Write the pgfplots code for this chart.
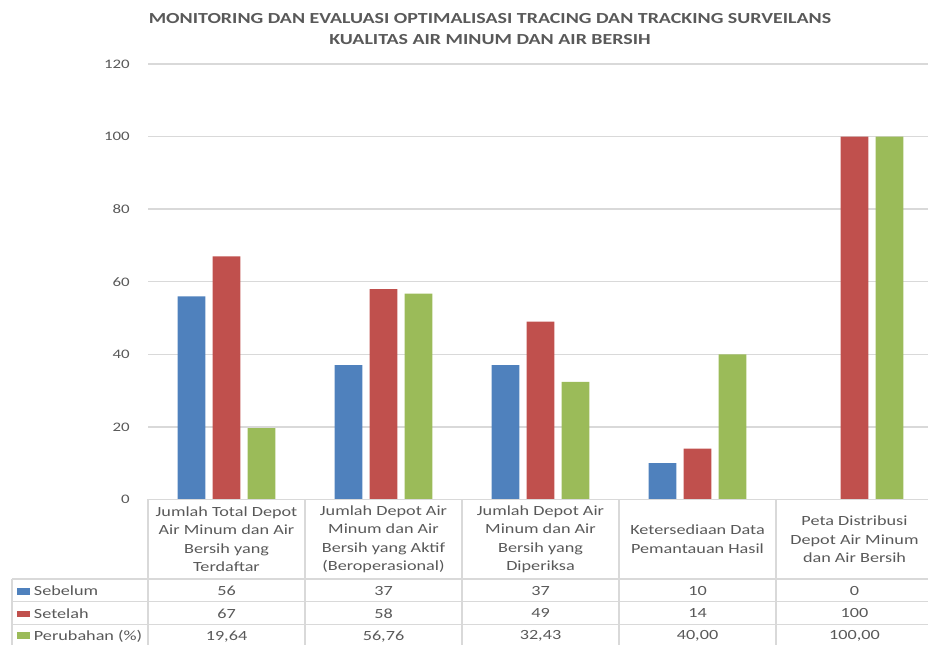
\documentclass[border=0pt]{standalone}
\usepackage{pgfplots}
\pgfplotsset{compat=1.18}
\usepackage{pgfplotstable}
\usepackage{fontspec}
\setmainfont{Carlito}[FakeStretch=1.3]
\definecolor{cblue}{HTML}{4F81BD}
\definecolor{cred}{HTML}{C0504D}
\definecolor{cgreen}{HTML}{9BBB59}
\definecolor{txt}{HTML}{595959}
\definecolor{gridc}{HTML}{D9D9D9}

\pgfplotstableread{
x seb set per sebT setT perT
0 56 67 19.64 56 67 19,64
1 37 58 56.76 37 58 56,76
2 37 49 32.43 37 49 32,43
3 10 14 40.00 10 14 40,00
4 0 100 100.00 0 100 100,00
}\data

\begin{document}
\begin{tikzpicture}[x=0.75pt,y=0.75pt]
\path[use as bounding box] (0,0) rectangle (928,645);
\begin{axis}[
  at={(111pt,109.125pt)}, anchor=south west,
  scale only axis, width=588.75pt, height=326.625pt,
  xmin=-0.5, xmax=4.5, ymin=0, ymax=120,
  ytick={0,20,...,120},
  xtick={0,...,4},
  xticklabels={
    {Jumlah Total Depot\\Air Minum dan Air\\Bersih yang\\Terdaftar},
    {Jumlah Depot Air\\Minum dan Air\\Bersih yang Aktif\\(Beroperasional)},
    {Jumlah Depot Air\\Minum dan Air\\Bersih yang\\Diperiksa},
    {Ketersediaan Data\\Pemantauan Hasil},
    {Peta Distribusi\\Depot Air Minum\\dan Air Bersih}},
  axis line style={draw=none},
  major tick length=0pt,
  ymajorgrids, grid style={gridc, line width=1pt},
  tick label style={text=txt},
  yticklabel style={font=\fontsize{9.75}{11}\selectfont, inner sep=0pt, xshift=-13.5pt},
  xticklabel style={font=\fontsize{10.5}{13.9}\selectfont, align=center, anchor=center, inner sep=0pt, yshift=-29.85pt},
  /pgf/number format/assume math mode=true,
  clip=false,
  bar width=0.178,
]
\addplot[ybar, fill=cblue, draw=none, bar shift=-0.223] table[x=x,y=seb]{\data};
\addplot[ybar, fill=cred, draw=none, bar shift=0] table[x=x,y=set]{\data};
\addplot[ybar, fill=cgreen, draw=none, bar shift=0.223] table[x=x,y=per]{\data};
\addplot[draw=none, mark=none, nodes near coords, point meta=explicit symbolic,
  nodes near coords style={anchor=center, text=txt, font=\fontsize{10.5}{12}\selectfont}]
  table[x=x, y expr=-25.2, meta=sebT]{\data};
\addplot[draw=none, mark=none, nodes near coords, point meta=explicit symbolic,
  nodes near coords style={anchor=center, text=txt, font=\fontsize{10.5}{12}\selectfont}]
  table[x=x, y expr=-31.4, meta=setT]{\data};
\addplot[draw=none, mark=none, nodes near coords, point meta=explicit symbolic,
  nodes near coords style={anchor=center, text=txt, font=\fontsize{10.5}{12}\selectfont}]
  table[x=x, y expr=-37.7, meta=perT]{\data};
\end{axis}
% table grid
\begin{scope}[draw=gridc, line width=1pt]
\draw (148,145.5) -- (935,145.5);
\draw (12,66) -- (935,66);
\draw (12,43.3) -- (935,43.3);
\draw (12,20.7) -- (935,20.7);
\draw (12,-5) -- (12,66);
\foreach \xx in {148,305,462,619,776,933} \draw (\xx,-5) -- (\xx,145.5);
\end{scope}
% row labels
\begin{scope}[every node/.style={anchor=west, text=txt, font=\fontsize{10.5}{12}\selectfont, inner sep=0pt}]
\node at (17,54.2) {\textcolor{cblue}{\raisebox{0.8pt}{\rule{9.5pt}{5pt}}}\hspace{3pt}Sebelum};
\node at (17,31.5) {\textcolor{cred}{\raisebox{0.8pt}{\rule{9.5pt}{5pt}}}\hspace{3pt}Setelah};
\node at (17,9) {\textcolor{cgreen}{\raisebox{0.8pt}{\rule{9.5pt}{5pt}}}\hspace{3pt}Perubahan (\%)};
\end{scope}
% title
\node[align=center, text=txt, font=\bfseries\fontsize{11.5}{15.75}\selectfont] at (490,615.5)
  {MONITORING DAN EVALUASI OPTIMALISASI TRACING DAN TRACKING SURVEILANS\\KUALITAS AIR MINUM DAN AIR BERSIH};
\end{tikzpicture}
\end{document}
